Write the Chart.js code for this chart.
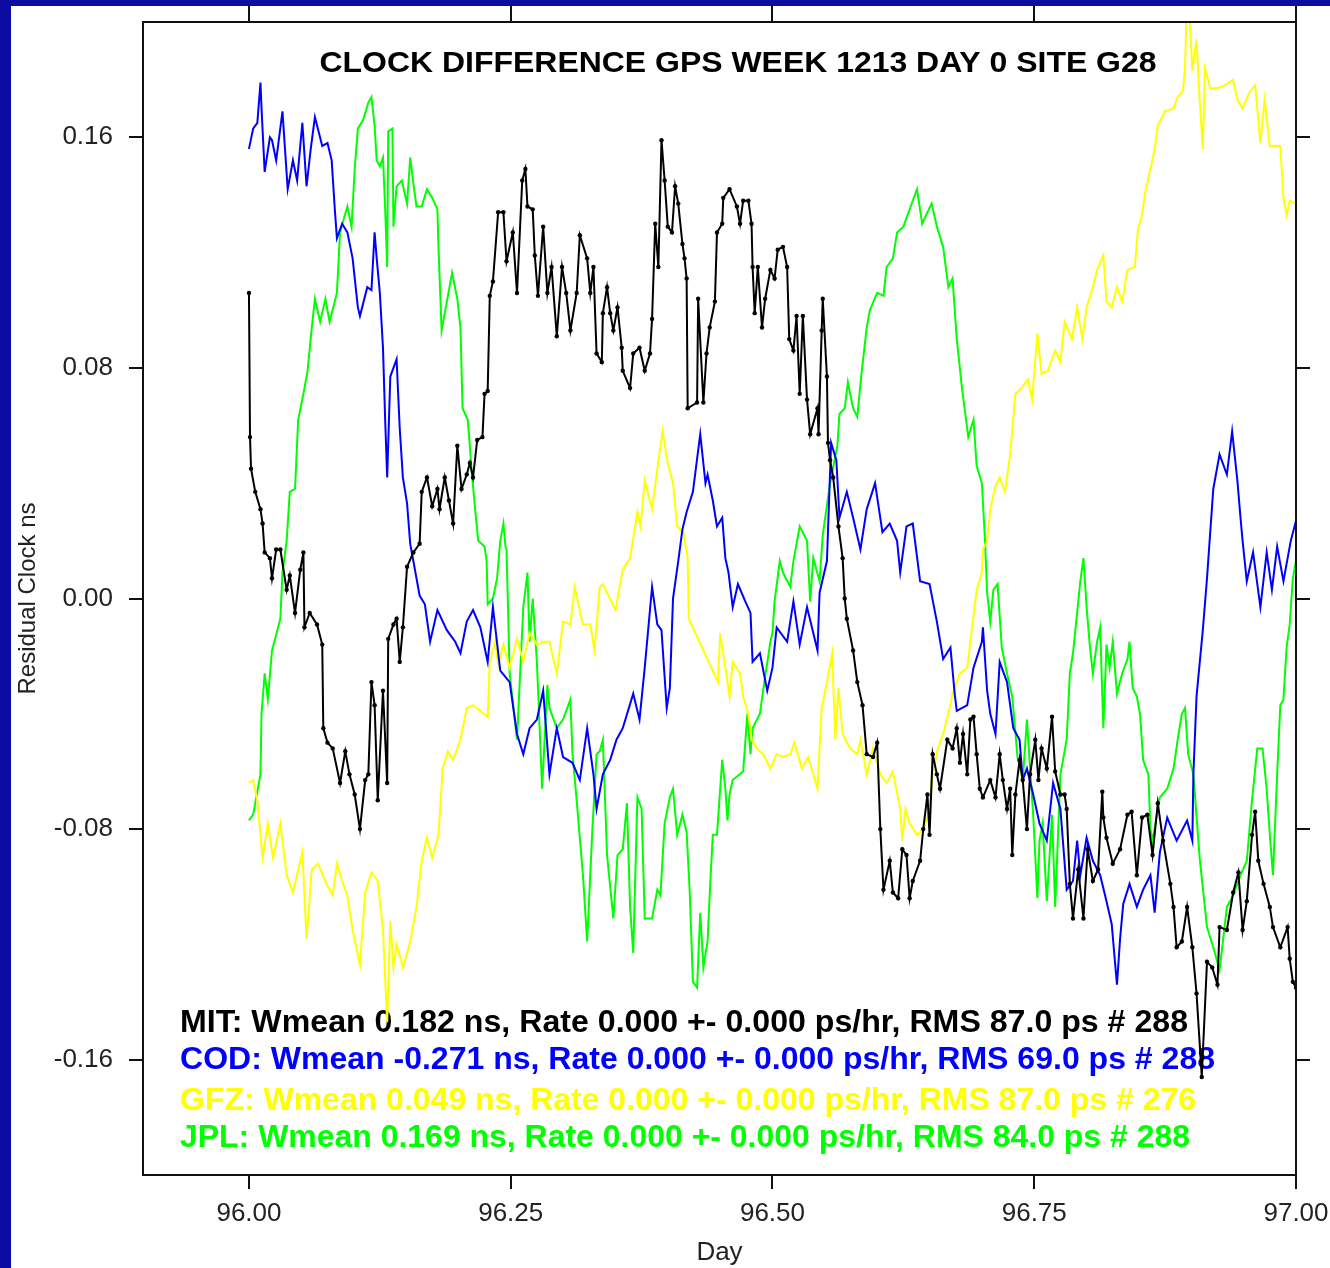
<!DOCTYPE html>
<html>
<head>
<meta charset="utf-8">
<title>Clock difference GPS week 1213 day 0 site G28</title>
<script src="https://cdn.jsdelivr.net/npm/chart.js@4.4.1/dist/chart.umd.min.js"></script>
<style>
  html, body { margin: 0; padding: 0; background: #fff; }
  #frame { width: 1319px; height: 1262px; border-top: 6px solid #0c0ca2; border-left: 11px solid #0c0ca2; background: #fff; }
  #frame canvas { display: block; }
</style>
</head>
<body>
<div id="frame"><canvas id="clockChart" width="1319" height="1262"></canvas></div>
<script>
/* ---- data (day of year / residual clock in ns) ---- */

var mitDay = [96.000, 96.001, 96.002, 96.006, 96.011, 96.013, 96.015, 96.020, 96.022, 96.026,
              96.030, 96.036, 96.039, 96.044, 96.049, 96.052, 96.053, 96.058, 96.065, 96.070,
              96.071, 96.075, 96.080, 96.087, 96.092, 96.096, 96.101, 96.106, 96.111, 96.114,
              96.117, 96.120, 96.123, 96.128, 96.132, 96.133, 96.138, 96.141, 96.144, 96.147,
              96.151, 96.157, 96.163, 96.165, 96.170, 96.175, 96.180, 96.182, 96.187, 96.191,
              96.195, 96.199, 96.203, 96.208, 96.211, 96.214, 96.218, 96.223, 96.225, 96.228,
              96.230, 96.233, 96.238, 96.243, 96.246, 96.252, 96.256, 96.261, 96.264, 96.266,
              96.271, 96.273, 96.276, 96.281, 96.285, 96.289, 96.294, 96.299, 96.303, 96.307,
              96.313, 96.316, 96.323, 96.326, 96.329, 96.332, 96.337, 96.338, 96.342, 96.345,
              96.348, 96.352, 96.356, 96.357, 96.364, 96.367, 96.373, 96.378, 96.383, 96.385,
              96.388, 96.391, 96.394, 96.397, 96.400, 96.404, 96.407, 96.410, 96.414, 96.416,
              96.418, 96.419, 96.428, 96.429, 96.434, 96.437, 96.440, 96.445, 96.447, 96.452,
              96.453, 96.459, 96.466, 96.469, 96.472, 96.477, 96.480, 96.481, 96.483, 96.486,
              96.490, 96.493, 96.498, 96.502, 96.505, 96.510, 96.514, 96.516, 96.520, 96.523,
              96.526, 96.529, 96.533, 96.536, 96.543, 96.544, 96.547, 96.548, 96.552, 96.553,
              96.555, 96.558, 96.563, 96.567, 96.569, 96.571, 96.577, 96.581, 96.586, 96.590,
              96.596, 96.600, 96.603, 96.606, 96.612, 96.615, 96.620, 96.624, 96.628, 96.631,
              96.634, 96.641, 96.644, 96.648, 96.650, 96.653, 96.657, 96.660, 96.667, 96.672,
              96.676, 96.679, 96.682, 96.686, 96.689, 96.692, 96.695, 96.698, 96.701, 96.708,
              96.713, 96.717, 96.720, 96.724, 96.727, 96.729, 96.732, 96.736, 96.739, 96.743,
              96.746, 96.751, 96.754, 96.757, 96.762, 96.767, 96.770, 96.775, 96.779, 96.781,
              96.784, 96.787, 96.792, 96.797, 96.801, 96.806, 96.811, 96.815, 96.816, 96.819,
              96.825, 96.832, 96.839, 96.843, 96.848, 96.853, 96.858, 96.863, 96.868, 96.873,
              96.880, 96.883, 96.886, 96.891, 96.896, 96.901, 96.905, 96.910, 96.915, 96.920,
              96.925, 96.927, 96.934, 96.940, 96.945, 96.949, 96.953, 96.958, 96.961, 96.964,
              96.969, 96.975, 96.978, 96.985, 96.992, 96.994, 96.997, 97.000];
var mitNs = [0.106, 0.056, 0.045, 0.037, 0.031, 0.026, 0.016, 0.014, 0.007, 0.017,
             0.017, 0.003, 0.008, -0.005, 0.010, 0.016, -0.010, -0.005, -0.009, -0.016,
             -0.045, -0.050, -0.052, -0.064, -0.053, -0.061, -0.068, -0.080, -0.063, -0.061,
             -0.029, -0.037, -0.070, -0.032, -0.064, -0.014, -0.009, -0.007, -0.022, -0.010,
             0.011, 0.016, 0.019, 0.037, 0.042, 0.032, 0.038, 0.031, 0.042, 0.034,
             0.026, 0.053, 0.038, 0.043, 0.047, 0.042, 0.055, 0.056, 0.071, 0.072,
             0.105, 0.110, 0.134, 0.134, 0.117, 0.127, 0.106, 0.145, 0.149, 0.136,
             0.135, 0.119, 0.105, 0.129, 0.106, 0.115, 0.091, 0.115, 0.106, 0.093,
             0.106, 0.126, 0.118, 0.106, 0.115, 0.085, 0.082, 0.099, 0.108, 0.099,
             0.093, 0.101, 0.087, 0.079, 0.073, 0.085, 0.087, 0.079, 0.085, 0.097,
             0.130, 0.115, 0.159, 0.145, 0.129, 0.127, 0.143, 0.137, 0.123, 0.118,
             0.111, 0.066, 0.068, 0.104, 0.068, 0.085, 0.094, 0.103, 0.127, 0.130,
             0.139, 0.142, 0.136, 0.130, 0.138, 0.138, 0.130, 0.115, 0.099, 0.115,
             0.094, 0.104, 0.114, 0.111, 0.121, 0.122, 0.115, 0.090, 0.086, 0.098,
             0.071, 0.098, 0.069, 0.057, 0.066, 0.057, 0.093, 0.104, 0.077, 0.054,
             0.048, 0.042, 0.025, 0.014, 0.000, -0.007, -0.018, -0.029, -0.037, -0.054,
             -0.055, -0.050, -0.080, -0.101, -0.091, -0.102, -0.104, -0.087, -0.089, -0.104,
             -0.098, -0.091, -0.080, -0.068, -0.082, -0.054, -0.061, -0.066, -0.049, -0.052,
             -0.045, -0.057, -0.047, -0.061, -0.042, -0.041, -0.054, -0.066, -0.069, -0.063,
             -0.069, -0.054, -0.063, -0.073, -0.066, -0.089, -0.068, -0.056, -0.063, -0.080,
             -0.061, -0.049, -0.063, -0.052, -0.059, -0.041, -0.060, -0.068, -0.068, -0.073,
             -0.099, -0.111, -0.094, -0.111, -0.087, -0.098, -0.094, -0.067, -0.076, -0.083,
             -0.092, -0.087, -0.075, -0.074, -0.096, -0.076, -0.075, -0.089, -0.071, -0.084,
             -0.099, -0.107, -0.121, -0.119, -0.107, -0.121, -0.137, -0.166, -0.126, -0.128,
             -0.134, -0.114, -0.115, -0.102, -0.095, -0.115, -0.105, -0.082, -0.074, -0.091,
             -0.099, -0.107, -0.114, -0.121, -0.114, -0.125, -0.133, -0.135];

var codDay = [96.000, 96.004, 96.008, 96.011, 96.012, 96.015, 96.020, 96.022, 96.026, 96.032,
              96.037, 96.042, 96.046, 96.051, 96.055, 96.059, 96.063, 96.070, 96.075, 96.079,
              96.082, 96.084, 96.089, 96.094, 96.099, 96.104, 96.106, 96.113, 96.117, 96.120,
              96.122, 96.125, 96.128, 96.130, 96.132, 96.135, 96.141, 96.144, 96.147, 96.151,
              96.154, 96.157, 96.163, 96.168, 96.173, 96.180, 96.189, 96.197, 96.202, 96.208,
              96.214, 96.221, 96.228, 96.233, 96.240, 96.249, 96.256, 96.262, 96.268, 96.275,
              96.281, 96.287, 96.294, 96.300, 96.309, 96.316, 96.323, 96.329, 96.332, 96.338,
              96.345, 96.351, 96.357, 96.367, 96.373, 96.378, 96.385, 96.390, 96.394, 96.399,
              96.402, 96.405, 96.410, 96.414, 96.418, 96.424, 96.431, 96.436, 96.438, 96.443,
              96.447, 96.452, 96.455, 96.458, 96.462, 96.467, 96.474, 96.479, 96.481, 96.488,
              96.495, 96.500, 96.504, 96.514, 96.520, 96.526, 96.533, 96.543, 96.545, 96.552,
              96.556, 96.561, 96.564, 96.571, 96.577, 96.584, 96.590, 96.598, 96.605, 96.612,
              96.619, 96.622, 96.628, 96.634, 96.641, 96.650, 96.657, 96.663, 96.670, 96.674,
              96.676, 96.686, 96.692, 96.700, 96.701, 96.705, 96.708, 96.713, 96.717, 96.724,
              96.730, 96.736, 96.739, 96.743, 96.749, 96.755, 96.762, 96.768, 96.775, 96.781,
              96.787, 96.791, 96.794, 96.800, 96.806, 96.813, 96.819, 96.824, 96.829, 96.832,
              96.835, 96.841, 96.848, 96.854, 96.861, 96.865, 96.870, 96.877, 96.886, 96.896,
              96.901, 96.902, 96.905, 96.911, 96.915, 96.921, 96.927, 96.934, 96.939, 96.944,
              96.947, 96.949, 96.953, 96.959, 96.966, 96.972, 96.977, 96.982, 96.988, 96.995,
              97.000];
var codNs = [0.156, 0.163, 0.165, 0.179, 0.170, 0.148, 0.160, 0.159, 0.152, 0.169,
             0.142, 0.152, 0.145, 0.165, 0.143, 0.156, 0.167, 0.157, 0.158, 0.152,
             0.135, 0.125, 0.130, 0.127, 0.118, 0.101, 0.098, 0.108, 0.107, 0.127,
             0.118, 0.106, 0.087, 0.063, 0.042, 0.077, 0.083, 0.059, 0.042, 0.033,
             0.019, 0.013, 0.001, -0.002, -0.015, -0.004, -0.011, -0.015, -0.019, -0.008,
             -0.004, -0.010, -0.022, -0.003, -0.025, -0.029, -0.047, -0.054, -0.045, -0.042,
             -0.032, -0.061, -0.045, -0.055, -0.057, -0.063, -0.045, -0.061, -0.073, -0.061,
             -0.056, -0.049, -0.045, -0.033, -0.042, -0.024, 0.004, -0.009, -0.011, -0.038,
             -0.031, 0.000, 0.013, 0.024, 0.030, 0.037, 0.057, 0.040, 0.043, 0.034,
             0.025, 0.028, 0.014, 0.009, -0.003, 0.005, -0.001, -0.005, -0.022, -0.019,
             -0.032, -0.024, -0.010, -0.015, -0.001, -0.016, -0.003, -0.018, 0.002, 0.013,
             0.054, 0.048, 0.028, 0.037, 0.028, 0.017, 0.031, 0.040, 0.023, 0.026,
             0.020, 0.009, 0.025, 0.026, 0.006, 0.005, -0.008, -0.021, -0.017, -0.033,
             -0.039, -0.037, -0.024, -0.015, -0.010, -0.032, -0.040, -0.047, -0.022, -0.029,
             -0.045, -0.049, -0.063, -0.059, -0.068, -0.078, -0.084, -0.064, -0.073, -0.101,
             -0.098, -0.084, -0.096, -0.083, -0.091, -0.096, -0.105, -0.113, -0.134, -0.118,
             -0.106, -0.099, -0.107, -0.101, -0.096, -0.109, -0.088, -0.076, -0.084, -0.077,
             -0.084, -0.061, -0.034, -0.011, 0.007, 0.038, 0.050, 0.043, 0.058, 0.041,
             0.028, 0.020, 0.006, 0.016, -0.003, 0.016, 0.003, 0.018, 0.006, 0.020,
             0.027];

var gfzDay = [96.000, 96.004, 96.008, 96.013, 96.018, 96.023, 96.030, 96.036, 96.042, 96.051,
              96.055, 96.060, 96.066, 96.074, 96.080, 96.084, 96.089, 96.094, 96.099, 96.106,
              96.111, 96.117, 96.123, 96.128, 96.132, 96.135, 96.138, 96.141, 96.147, 96.154,
              96.160, 96.165, 96.170, 96.175, 96.181, 96.185, 96.190, 96.195, 96.202, 96.208,
              96.214, 96.221, 96.228, 96.230, 96.235, 96.238, 96.243, 96.249, 96.256, 96.262,
              96.268, 96.275, 96.281, 96.287, 96.294, 96.300, 96.307, 96.311, 96.319, 96.326,
              96.330, 96.335, 96.338, 96.350, 96.357, 96.364, 96.371, 96.374, 96.378, 96.385,
              96.390, 96.395, 96.400, 96.405, 96.409, 96.415, 96.419, 96.420, 96.448, 96.450,
              96.455, 96.459, 96.462, 96.469, 96.472, 96.477, 96.480, 96.485, 96.491, 96.498,
              96.504, 96.510, 96.517, 96.521, 96.528, 96.534, 96.539, 96.543, 96.547, 96.552,
              96.557, 96.560, 96.563, 96.567, 96.574, 96.581, 96.584, 96.590, 96.596, 96.603,
              96.609, 96.615, 96.622, 96.624, 96.627, 96.631, 96.638, 96.644, 96.649, 96.653,
              96.658, 96.663, 96.670, 96.672, 96.679, 96.686, 96.691, 96.695, 96.700, 96.701,
              96.705, 96.708, 96.713, 96.717, 96.722, 96.727, 96.732, 96.738, 96.744, 96.748,
              96.753, 96.757, 96.763, 96.770, 96.775, 96.779, 96.786, 96.791, 96.796, 96.800,
              96.806, 96.810, 96.816, 96.819, 96.824, 96.829, 96.834, 96.839, 96.846, 96.849,
              96.853, 96.856, 96.861, 96.865, 96.868, 96.875, 96.883, 96.887, 96.892, 96.894,
              96.896, 96.899, 96.901, 96.905, 96.908, 96.911, 96.913, 96.918, 96.925, 96.932,
              96.940, 96.944, 96.949, 96.956, 96.961, 96.966, 96.970, 96.975, 96.985, 96.988,
              96.991, 96.994, 97.000];
var gfzNs = [-0.064, -0.063, -0.070, -0.090, -0.078, -0.090, -0.078, -0.096, -0.102, -0.088,
             -0.118, -0.094, -0.092, -0.099, -0.103, -0.092, -0.098, -0.103, -0.115, -0.127,
             -0.102, -0.095, -0.098, -0.115, -0.147, -0.112, -0.128, -0.120, -0.128, -0.119,
             -0.107, -0.091, -0.083, -0.090, -0.082, -0.059, -0.053, -0.056, -0.049, -0.038,
             -0.037, -0.039, -0.041, -0.022, -0.015, -0.023, -0.016, -0.024, -0.014, -0.022,
             -0.012, -0.016, -0.015, -0.015, -0.026, -0.008, -0.009, 0.004, -0.009, -0.009,
             -0.018, 0.004, 0.005, -0.004, 0.010, 0.014, 0.030, 0.025, 0.041, 0.031,
             0.045, 0.058, 0.047, 0.040, 0.025, 0.023, 0.014, -0.007, -0.029, -0.012,
             -0.024, -0.034, -0.022, -0.026, -0.034, -0.040, -0.049, -0.052, -0.054, -0.059,
             -0.054, -0.055, -0.054, -0.050, -0.059, -0.055, -0.061, -0.066, -0.038, -0.029,
             -0.019, -0.049, -0.031, -0.047, -0.052, -0.054, -0.049, -0.061, -0.052, -0.061,
             -0.064, -0.060, -0.073, -0.084, -0.073, -0.078, -0.082, -0.080, -0.075, -0.061,
             -0.052, -0.047, -0.037, -0.033, -0.026, -0.024, -0.009, 0.003, 0.009, 0.017,
             0.020, 0.031, 0.039, 0.042, 0.037, 0.050, 0.071, 0.073, 0.076, 0.069,
             0.092, 0.078, 0.079, 0.086, 0.082, 0.096, 0.090, 0.101, 0.090, 0.101,
             0.108, 0.114, 0.119, 0.103, 0.101, 0.108, 0.103, 0.114, 0.115, 0.128,
             0.133, 0.141, 0.149, 0.156, 0.164, 0.169, 0.170, 0.174, 0.176, 0.184,
             0.210, 0.198, 0.183, 0.194, 0.173, 0.156, 0.184, 0.177, 0.177, 0.178,
             0.180, 0.173, 0.170, 0.176, 0.178, 0.158, 0.173, 0.157, 0.157, 0.139,
             0.133, 0.138, 0.137];

var jplDay = [96.000, 96.004, 96.008, 96.011, 96.012, 96.015, 96.018, 96.022, 96.025, 96.030,
              96.032, 96.036, 96.039, 96.044, 96.047, 96.052, 96.056, 96.060, 96.063, 96.068,
              96.073, 96.077, 96.084, 96.087, 96.090, 96.094, 96.098, 96.101, 96.104, 96.109,
              96.114, 96.117, 96.120, 96.122, 96.125, 96.128, 96.130, 96.132, 96.133, 96.137,
              96.138, 96.141, 96.146, 96.151, 96.154, 96.157, 96.160, 96.165, 96.170, 96.175,
              96.180, 96.181, 96.184, 96.189, 96.194, 96.199, 96.202, 96.204, 96.209, 96.213,
              96.216, 96.219, 96.225, 96.227, 96.228, 96.233, 96.237, 96.240, 96.243, 96.245,
              96.246, 96.249, 96.256, 96.262, 96.266, 96.268, 96.271, 96.275, 96.280, 96.285,
              96.287, 96.294, 96.300, 96.307, 96.309, 96.313, 96.319, 96.323, 96.328, 96.332,
              96.335, 96.338, 96.342, 96.348, 96.352, 96.357, 96.361, 96.364, 96.367, 96.371,
              96.375, 96.378, 96.385, 96.390, 96.393, 96.397, 96.402, 96.405, 96.409, 96.414,
              96.418, 96.421, 96.424, 96.428, 96.431, 96.434, 96.438, 96.440, 96.443, 96.447,
              96.452, 96.455, 96.457, 96.459, 96.462, 96.472, 96.476, 96.479, 96.481, 96.488,
              96.491, 96.498, 96.500, 96.502, 96.507, 96.510, 96.517, 96.520, 96.526, 96.533,
              96.536, 96.539, 96.545, 96.548, 96.555, 96.562, 96.564, 96.569, 96.572, 96.577,
              96.581, 96.585, 96.590, 96.593, 96.600, 96.606, 96.609, 96.615, 96.619, 96.625,
              96.631, 96.638, 96.643, 96.648, 96.652, 96.657, 96.663, 96.668, 96.672, 96.676,
              96.681, 96.687, 96.692, 96.695, 96.700, 96.703, 96.705, 96.708, 96.711, 96.715,
              96.719, 96.724, 96.729, 96.734, 96.739, 96.743, 96.749, 96.753, 96.755, 96.758,
              96.762, 96.767, 96.770, 96.775, 96.781, 96.784, 96.787, 96.794, 96.797, 96.800,
              96.803, 96.806, 96.810, 96.813, 96.816, 96.819, 96.822, 96.825, 96.829, 96.834,
              96.839, 96.841, 96.844, 96.848, 96.851, 96.854, 96.859, 96.861, 96.863, 96.870,
              96.877, 96.883, 96.887, 96.891, 96.894, 96.897, 96.902, 96.908, 96.915, 96.921,
              96.927, 96.934, 96.940, 96.947, 96.953, 96.958, 96.963, 96.968, 96.972, 96.975,
              96.978, 96.982, 96.985, 96.988, 96.991, 96.994, 96.997, 97.000];
var jplNs = [-0.077, -0.075, -0.067, -0.061, -0.040, -0.026, -0.035, -0.018, -0.014, -0.007,
             0.009, 0.020, 0.037, 0.038, 0.062, 0.071, 0.079, 0.094, 0.104, 0.096,
             0.104, 0.096, 0.106, 0.127, 0.131, 0.136, 0.129, 0.149, 0.163, 0.166,
             0.172, 0.174, 0.164, 0.152, 0.150, 0.153, 0.136, 0.115, 0.162, 0.163,
             0.129, 0.143, 0.145, 0.137, 0.153, 0.144, 0.136, 0.136, 0.142, 0.139,
             0.135, 0.122, 0.093, 0.103, 0.113, 0.104, 0.094, 0.066, 0.062, 0.043,
             0.031, 0.020, 0.018, 0.013, -0.002, 0.000, 0.007, 0.020, 0.026, 0.018,
             0.017, -0.026, -0.049, -0.003, 0.009, -0.015, 0.000, -0.022, -0.066, -0.030,
             -0.038, -0.045, -0.042, -0.035, -0.054, -0.070, -0.096, -0.119, -0.080, -0.054,
             -0.053, -0.049, -0.089, -0.111, -0.089, -0.087, -0.071, -0.107, -0.123, -0.069,
             -0.073, -0.111, -0.111, -0.101, -0.103, -0.078, -0.069, -0.066, -0.082, -0.075,
             -0.081, -0.102, -0.133, -0.135, -0.109, -0.128, -0.119, -0.103, -0.082, -0.082,
             -0.056, -0.066, -0.077, -0.068, -0.063, -0.060, -0.040, -0.054, -0.045, -0.040,
             -0.032, -0.015, -0.012, -0.001, 0.013, 0.009, 0.004, 0.013, 0.025, 0.020,
             -0.001, 0.014, 0.006, 0.022, 0.040, 0.053, 0.064, 0.066, 0.075, 0.066,
             0.063, 0.078, 0.094, 0.100, 0.106, 0.105, 0.115, 0.118, 0.127, 0.129,
             0.135, 0.142, 0.130, 0.134, 0.137, 0.129, 0.122, 0.108, 0.111, 0.090,
             0.073, 0.056, 0.062, 0.046, 0.040, 0.020, 0.002, -0.008, 0.003, 0.005,
             -0.017, -0.026, -0.034, -0.055, -0.063, -0.042, -0.075, -0.104, -0.084, -0.078,
             -0.105, -0.075, -0.107, -0.061, -0.049, -0.026, -0.019, 0.006, 0.014, -0.003,
             -0.016, -0.026, -0.015, -0.010, -0.045, -0.016, -0.024, -0.015, -0.033, -0.026,
             -0.021, -0.015, -0.031, -0.034, -0.040, -0.056, -0.061, -0.080, -0.084, -0.069,
             -0.066, -0.059, -0.049, -0.040, -0.038, -0.054, -0.061, -0.090, -0.114, -0.121,
             -0.129, -0.107, -0.103, -0.096, -0.091, -0.070, -0.052, -0.052, -0.066, -0.082,
             -0.096, -0.061, -0.037, -0.035, -0.017, -0.009, 0.007, 0.013];

var centres = ['MIT', 'COD', 'GFZ', 'JPL'];
var wmean = ['0.182', '-0.271', '0.049', '0.169'];
var rms = ['87.0', '69.0', '87.0', '84.0'];
var nobs = ['288', '288', '276', '288'];

var xTicks = [96.00, 96.25, 96.50, 96.75, 97.00];
var yTicks = [-0.16, -0.08, 0.00, 0.08, 0.16];

var colours = ['#000000', '#0000ff', '#ffff00', '#00ff00'];
var title = 'CLOCK DIFFERENCE GPS WEEK 1213 DAY 0 SITE G28';


/* ---- helpers ---- */

function points(dayList, valueList) {
    if (dayList.length !== valueList.length) console.error('length mismatch', dayList.length, valueList.length);
    return dayList.map(function (d, i) { return { x: d, y: valueList[i] }; });
}

// squeeze text to the width it has in the original (narrow bitmap font)
function squeezeText(ctx, text, x, y, width, align) {
    var w = ctx.measureText(text).width;
    ctx.save();
    ctx.translate(x, y);
    ctx.scale(width / w, 1);
    ctx.textAlign = align;
    ctx.fillText(text, 0, 0);
    ctx.restore();
}

var textPlugin = {
    id: 'plotText',
    beforeDatasetsDraw: function (chart) {
        var ctx = chart.ctx;
        ctx.save();
        ctx.textBaseline = 'middle';
        ctx.fillStyle = '#000';
        ctx.font = 'bold 30px "Liberation Sans", Arial, sans-serif';
        squeezeText(ctx, title, 727, 58, 837, 'center');

        var rowY = [1017, 1054, 1095, 1132];
        var rowW = [1008, 1035, 1016, 1010];
        ctx.font = 'bold 31px "Liberation Sans", Arial, sans-serif';
        for (var i = 0; i < centres.length; i++) {
            var line = centres[i] + ': Wmean ' + wmean[i] + ' ns, Rate 0.000 +- 0.000 ps/hr, RMS ' +
                       rms[i] + ' ps # ' + nobs[i];
            ctx.fillStyle = colours[i];
            squeezeText(ctx, line, 169, rowY[i], rowW[i], 'left');
        }
        ctx.restore();
    },
    afterDatasetsDraw: function (chart) {
        var ctx = chart.ctx, a = chart.chartArea;
        var xs = chart.scales.x, ys = chart.scales.y;
        ctx.save();
        ctx.strokeStyle = '#111';
        ctx.lineWidth = 2;
        ctx.strokeRect(a.left, a.top, a.right - a.left, a.bottom - a.top);
        ctx.beginPath();
        xTicks.forEach(function (v) {           // ticks along the top
            var px = Math.round(xs.getPixelForValue(v));
            ctx.moveTo(px, a.top);
            ctx.lineTo(px, a.top - 16);
        });
        yTicks.forEach(function (v) {           // ticks along the right
            var py = Math.round(ys.getPixelForValue(v));
            ctx.moveTo(a.right, py);
            ctx.lineTo(a.right + 14, py);
        });
        ctx.stroke();
        ctx.restore();
    }
};

/* ---- chart ---- */

var tickFont = { family: '"Liberation Sans", Arial, sans-serif', size: 26 };

var ctx = document.getElementById('clockChart').getContext('2d');
var clockChart = new Chart(ctx, {
    type: 'line',
    data: {
        datasets: [
            { label: 'MIT', data: points(mitDay, mitNs), borderColor: colours[0], backgroundColor: colours[0],
              borderWidth: 2, pointRadius: 2.2, pointBorderWidth: 0 },
            { label: 'COD', data: points(codDay, codNs), borderColor: colours[1], borderWidth: 2, pointRadius: 0 },
            { label: 'GFZ', data: points(gfzDay, gfzNs), borderColor: colours[2], borderWidth: 2, pointRadius: 0 },
            { label: 'JPL', data: points(jplDay, jplNs), borderColor: colours[3], borderWidth: 2, pointRadius: 0 }
        ]
    },
    options: {
        responsive: false,
        animation: false,
        layout: { padding: { top: 16, right: 34, left: 0, bottom: 0 } },
        plugins: {
            legend: { display: false },
            tooltip: { enabled: false }
        },
        scales: {
            x: {
                type: 'linear',
                min: 95.8988,
                max: 97.0,
                afterBuildTicks: function (s) { s.ticks = xTicks.map(function (v) { return { value: v }; }); },
                afterFit: function (s) { s.height = 93; s.paddingLeft = 0; s.paddingRight = 0; },
                ticks: {
                    callback: function (v) { return v.toFixed(2); },
                    font: tickFont, color: '#222', padding: 9, maxRotation: 0, autoSkip: false
                },
                grid: { drawOnChartArea: false, tickLength: 14, color: '#111', lineWidth: 2 },
                border: { display: false },
                title: { display: true, text: 'Day', font: tickFont, color: '#222', padding: 0 }
            },
            y: {
                min: -0.2,
                max: 0.2,
                afterBuildTicks: function (s) { s.ticks = yTicks.map(function (v) { return { value: v }; }); },
                afterFit: function (s) { s.width = 132; s.paddingTop = 0; s.paddingBottom = 0; },
                ticks: {
                    callback: function (v) { return v.toFixed(2); },
                    font: tickFont, color: '#222', padding: 16
                },
                grid: { drawOnChartArea: false, tickLength: 14, color: '#111', lineWidth: 2 },
                border: { display: false },
                title: { display: true, text: 'Residual Clock ns', color: '#222', padding: { top: 3, bottom: 0 },
                         font: { family: '"Liberation Sans", Arial, sans-serif', size: 24 } }
            }
        }
    },
    plugins: [textPlugin]
});
</script>
</body>
</html>
